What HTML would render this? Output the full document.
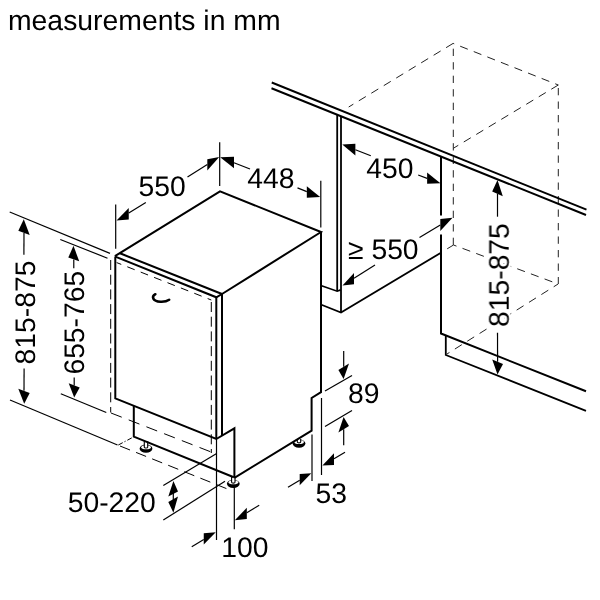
<!DOCTYPE html>
<html><head><meta charset="utf-8"><style>
html,body{margin:0;padding:0;background:#fff;}
svg{display:block;}
text{font-family:"Liberation Sans",sans-serif;fill:#000;text-rendering:geometricPrecision;}
</style></head><body>
<svg width="600" height="600" viewBox="0 0 600 600">
<defs><filter id="g" x="0" y="0" width="600" height="600" filterUnits="userSpaceOnUse" color-interpolation-filters="sRGB"><feColorMatrix type="saturate" values="0"/></filter></defs>
<rect width="600" height="600" fill="#fff"/>
<path d="M453.10 43.40 L348.70 107.00" fill="none" stroke="#222" stroke-width="1.0" stroke-linecap="butt" stroke-linejoin="miter" stroke-dasharray="8.2 6.4"/>
<path d="M453.10 43.40 L558.30 85.00" fill="none" stroke="#222" stroke-width="1.0" stroke-linecap="butt" stroke-linejoin="miter" stroke-dasharray="8.2 6.4" stroke-dashoffset="7"/>
<path d="M558.30 85.00 L453.30 148.30" fill="none" stroke="#222" stroke-width="1.0" stroke-linecap="butt" stroke-linejoin="miter" stroke-dasharray="8.2 6.4"/>
<path d="M453.30 43.40 L453.30 245.00" fill="none" stroke="#222" stroke-width="1.0" stroke-linecap="butt" stroke-linejoin="miter" stroke-dasharray="7.3 6.2" stroke-dashoffset="-5.3"/>
<path d="M558.30 85.00 L558.30 284.00" fill="none" stroke="#222" stroke-width="1.0" stroke-linecap="butt" stroke-linejoin="miter" stroke-dasharray="7.3 6.2" stroke-dashoffset="-3"/>
<path d="M453.50 245.00 L558.10 284.00" fill="none" stroke="#222" stroke-width="1.0" stroke-linecap="butt" stroke-linejoin="miter" stroke-dasharray="8.2 6.4" stroke-dashoffset="5"/>
<path d="M558.10 284.00 L447.00 354.00" fill="none" stroke="#222" stroke-width="1.0" stroke-linecap="butt" stroke-linejoin="miter" stroke-dasharray="8.2 6.4" stroke-dashoffset="3"/>
<path d="M453.50 245.00 L447.20 248.80" fill="none" stroke="#222" stroke-width="1.0" stroke-linecap="butt" stroke-linejoin="miter"/>
<path d="M271.75 82.50 L586.50 209.60" fill="none" stroke="#000" stroke-width="1.9" stroke-linecap="butt" stroke-linejoin="miter"/>
<path d="M271.50 88.25 L586.00 215.00" fill="none" stroke="#000" stroke-width="1.9" stroke-linecap="butt" stroke-linejoin="miter"/>
<path d="M337.20 114.60 L337.20 291.20" fill="none" stroke="#000" stroke-width="1.8" stroke-linecap="butt" stroke-linejoin="miter"/>
<path d="M341.00 116.20 L341.00 312.50" fill="none" stroke="#000" stroke-width="1.8" stroke-linecap="butt" stroke-linejoin="miter"/>
<path d="M320.80 285.50 L337.20 291.20 L340.70 289.90" fill="none" stroke="#000" stroke-width="1.7" stroke-linecap="butt" stroke-linejoin="miter"/>
<path d="M320.80 304.50 L341.00 312.50 L441.00 252.70" fill="none" stroke="#000" stroke-width="1.8" stroke-linecap="butt" stroke-linejoin="miter"/>
<path d="M441.00 156.80 L441.00 215.50" fill="none" stroke="#000" stroke-width="2.0" stroke-linecap="butt" stroke-linejoin="miter"/>
<path d="M441.00 234.50 L441.00 333.50 L586.00 391.30" fill="none" stroke="#000" stroke-width="2.0" stroke-linecap="butt" stroke-linejoin="miter"/>
<path d="M445.80 336.00 L445.80 355.00 L586.00 410.80" fill="none" stroke="#000" stroke-width="1.8" stroke-linecap="butt" stroke-linejoin="miter"/>
<ellipse cx="146" cy="448.70000000000005" rx="6.4" ry="4.1" fill="#000"/>
<ellipse cx="146.1" cy="447.20000000000005" rx="4.8" ry="2.0" fill="#fff"/>
<path d="M144.3 441.3 L144.3 447.20000000000005 A1.7 0.8 0 0 0 147.7 447.20000000000005 L147.7 441.3" fill="#fff" stroke="#000" stroke-width="1.1"/>
<ellipse cx="233.3" cy="483.8" rx="6.4" ry="4.1" fill="#000"/>
<ellipse cx="233.4" cy="482.3" rx="4.8" ry="2.0" fill="#fff"/>
<path d="M231.60000000000002 477 L231.60000000000002 482.3 A1.7 0.8 0 0 0 235.0 482.3 L235.0 477" fill="#fff" stroke="#000" stroke-width="1.1"/>
<ellipse cx="299" cy="443.6" rx="6.4" ry="4.1" fill="#000"/>
<ellipse cx="299.1" cy="442.1" rx="4.8" ry="2.0" fill="#fff"/>
<path d="M297.3 439 L297.3 442.1 A1.7 0.8 0 0 0 300.7 442.1 L300.7 439" fill="#fff" stroke="#000" stroke-width="1.1"/>
<path d="M114.90 256.20 L220.00 191.30 L321.00 232.00 L222.00 294.00" fill="none" stroke="#000" stroke-width="2.0" stroke-linecap="butt" stroke-linejoin="miter"/>
<path d="M120.00 253.30 L222.00 294.00" fill="none" stroke="#000" stroke-width="2.0" stroke-linecap="butt" stroke-linejoin="miter"/>
<path d="M115.30 256.60 L216.30 297.30 L222.00 294.00" fill="none" stroke="#000" stroke-width="2.0" stroke-linecap="butt" stroke-linejoin="miter"/>
<path d="M115.30 256.60 L115.30 398.40 L216.30 439.00 L234.40 428.30 L234.40 478.00" fill="none" stroke="#000" stroke-width="2.0" stroke-linecap="butt" stroke-linejoin="miter"/>
<path d="M216.30 297.30 L216.30 439.00" fill="none" stroke="#000" stroke-width="2.0" stroke-linecap="butt" stroke-linejoin="miter"/>
<path d="M222.00 294.00 L222.00 435.80" fill="none" stroke="#000" stroke-width="2.0" stroke-linecap="butt" stroke-linejoin="miter"/>
<path d="M321.00 232.00 L321.00 392.20 L311.60 398.00 L311.60 430.60 L234.40 477.80" fill="none" stroke="#000" stroke-width="2.0" stroke-linecap="butt" stroke-linejoin="miter"/>
<path d="M133.80 406.00 L133.80 436.60 L233.80 477.20" fill="none" stroke="#000" stroke-width="2.0" stroke-linecap="butt" stroke-linejoin="miter"/>
<path d="M155.4 294.2 C151.3 296.5 152.3 301 160.5 301.8 C164.5 302 167.5 301 169.2 299.8" fill="none" stroke="#000" stroke-width="2.5" stroke-linecap="round"/>
<path d="M110.70 258.70 L110.70 412.50" fill="none" stroke="#000" stroke-width="1.0" stroke-linecap="butt" stroke-linejoin="miter" stroke-dasharray="10 4.7" stroke-dashoffset="-1.3"/>
<path d="M116.70 262.60 L211.30 300.00" fill="none" stroke="#000" stroke-width="1.0" stroke-linecap="butt" stroke-linejoin="miter" stroke-dasharray="7.9 6.5" stroke-dashoffset="3"/>
<path d="M211.30 300.00 L211.30 453.00" fill="none" stroke="#000" stroke-width="1.0" stroke-linecap="butt" stroke-linejoin="miter" stroke-dasharray="10 4.7" stroke-dashoffset="-2"/>
<path d="M111.00 413.00 L215.00 453.50" fill="none" stroke="#000" stroke-width="1.0" stroke-linecap="butt" stroke-linejoin="miter" stroke-dasharray="11.5 7.5"/>
<path d="M120.00 446.00 L230.00 490.00" fill="none" stroke="#000" stroke-width="1.0" stroke-linecap="butt" stroke-linejoin="miter" stroke-dasharray="10.8 6.5"/>
<path d="M118.30 445.00 L132.50 437.50" fill="none" stroke="#000" stroke-width="1.0" stroke-linecap="butt" stroke-linejoin="miter" stroke-dasharray="5 2 1.2 2"/>
<path d="M9.70 212.00 L110.00 253.40" fill="none" stroke="#000" stroke-width="1.2" stroke-linecap="butt" stroke-linejoin="miter"/>
<path d="M60.30 239.50 L107.50 258.20" fill="none" stroke="#000" stroke-width="1.2" stroke-linecap="butt" stroke-linejoin="miter"/>
<path d="M10.00 400.00 L117.50 445.00" fill="none" stroke="#000" stroke-width="1.2" stroke-linecap="butt" stroke-linejoin="miter"/>
<path d="M60.80 393.80 L106.30 412.50" fill="none" stroke="#000" stroke-width="1.2" stroke-linecap="butt" stroke-linejoin="miter"/>
<path d="M23.80 219.20 L18.30 230.80 L29.70 235.00 Z" fill="#000"/>
<path d="M24.00 232.90 L23.90 254.70" fill="none" stroke="#000" stroke-width="1.2" stroke-linecap="butt" stroke-linejoin="miter"/>
<path d="M24.20 403.70 L18.30 388.70 L29.70 393.00 Z" fill="#000"/>
<path d="M24.00 390.85 L24.10 368.50" fill="none" stroke="#000" stroke-width="1.2" stroke-linecap="butt" stroke-linejoin="miter"/>
<path d="M73.50 245.80 L68.30 257.50 L79.20 261.30 Z" fill="#000"/>
<path d="M73.75 259.40 L73.80 268.30" fill="none" stroke="#000" stroke-width="1.2" stroke-linecap="butt" stroke-linejoin="miter"/>
<path d="M74.20 397.50 L68.70 383.30 L79.70 387.50 Z" fill="#000"/>
<path d="M74.20 385.40 L74.20 377.50" fill="none" stroke="#000" stroke-width="1.2" stroke-linecap="butt" stroke-linejoin="miter"/>
<path d="M219.70 142.20 L219.70 186.00" fill="none" stroke="#000" stroke-width="1.2" stroke-linecap="butt" stroke-linejoin="miter"/>
<path d="M115.70 204.60 L115.70 248.70" fill="none" stroke="#000" stroke-width="1.2" stroke-linecap="butt" stroke-linejoin="miter"/>
<path d="M320.80 180.80 L320.80 227.50" fill="none" stroke="#000" stroke-width="1.2" stroke-linecap="butt" stroke-linejoin="miter"/>
<path d="M219.20 157.10 L207.30 159.20 L207.30 170.40 Z" fill="#000"/>
<path d="M207.30 164.57 L187.50 177.00" fill="none" stroke="#000" stroke-width="1.2" stroke-linecap="butt" stroke-linejoin="miter"/>
<path d="M116.50 220.40 L128.75 207.90 L128.75 219.60 Z" fill="#000"/>
<path d="M128.75 212.92 L145.80 202.50" fill="none" stroke="#000" stroke-width="1.2" stroke-linecap="butt" stroke-linejoin="miter"/>
<path d="M220.20 157.30 L234.00 156.70 L234.00 168.20 Z" fill="#000"/>
<path d="M234.00 162.72 L250.00 169.00" fill="none" stroke="#000" stroke-width="1.2" stroke-linecap="butt" stroke-linejoin="miter"/>
<path d="M320.20 197.10 L306.80 186.25 L306.80 197.70 Z" fill="#000"/>
<path d="M306.80 191.67 L297.50 187.90" fill="none" stroke="#000" stroke-width="1.2" stroke-linecap="butt" stroke-linejoin="miter"/>
<path d="M342.30 144.60 L355.40 143.75 L355.40 155.40 Z" fill="#000"/>
<path d="M355.40 149.70 L370.80 155.70" fill="none" stroke="#000" stroke-width="1.2" stroke-linecap="butt" stroke-linejoin="miter"/>
<path d="M440.40 183.30 L427.10 172.50 L427.10 183.80 Z" fill="#000"/>
<path d="M427.10 178.33 L418.20 175.00" fill="none" stroke="#000" stroke-width="1.2" stroke-linecap="butt" stroke-linejoin="miter"/>
<path d="M342.50 285.40 L354.00 273.00 L354.00 284.20 Z" fill="#000"/>
<path d="M354.00 278.18 L375.00 265.00" fill="none" stroke="#000" stroke-width="1.2" stroke-linecap="butt" stroke-linejoin="miter"/>
<path d="M452.50 217.80 L440.30 219.00 L440.30 231.00 Z" fill="#000"/>
<path d="M440.30 225.08 L419.50 237.50" fill="none" stroke="#000" stroke-width="1.2" stroke-linecap="butt" stroke-linejoin="miter"/>
<path d="M497.50 180.00 L492.20 191.50 L502.80 196.20 Z" fill="#000"/>
<path d="M497.50 193.85 L497.50 216.70" fill="none" stroke="#000" stroke-width="1.2" stroke-linecap="butt" stroke-linejoin="miter"/>
<path d="M497.50 374.50 L492.20 359.50 L503.00 364.00 Z" fill="#000"/>
<path d="M497.60 361.75 L497.50 332.70" fill="none" stroke="#000" stroke-width="1.2" stroke-linecap="butt" stroke-linejoin="miter"/>
<path d="M325.00 391.00 L352.00 375.60" fill="none" stroke="#000" stroke-width="1.2" stroke-linecap="butt" stroke-linejoin="miter"/>
<path d="M325.00 426.40 L352.00 410.40" fill="none" stroke="#000" stroke-width="1.2" stroke-linecap="butt" stroke-linejoin="miter"/>
<path d="M343.60 379.00 L338.40 370.00 L349.00 363.60 Z" fill="#000"/>
<path d="M343.70 366.80 L343.70 351.00" fill="none" stroke="#000" stroke-width="1.2" stroke-linecap="butt" stroke-linejoin="miter"/>
<path d="M343.60 417.00 L338.40 432.40 L349.00 426.00 Z" fill="#000"/>
<path d="M343.70 429.20 L343.70 445.30" fill="none" stroke="#000" stroke-width="1.2" stroke-linecap="butt" stroke-linejoin="miter"/>
<path d="M312.00 434.50 L312.00 481.00" fill="none" stroke="#000" stroke-width="1.2" stroke-linecap="butt" stroke-linejoin="miter"/>
<path d="M321.50 398.00 L321.50 475.00" fill="none" stroke="#000" stroke-width="1.2" stroke-linecap="butt" stroke-linejoin="miter"/>
<path d="M322.40 465.60 L334.00 453.30 L334.00 465.00 Z" fill="#000"/>
<path d="M334.00 458.77 L345.00 452.30" fill="none" stroke="#000" stroke-width="1.2" stroke-linecap="butt" stroke-linejoin="miter"/>
<path d="M311.30 473.30 L299.70 474.00 L299.70 485.30 Z" fill="#000"/>
<path d="M299.70 480.27 L288.00 487.30" fill="none" stroke="#000" stroke-width="1.2" stroke-linecap="butt" stroke-linejoin="miter"/>
<path d="M163.30 485.60 L216.25 453.80" fill="none" stroke="#000" stroke-width="1.2" stroke-linecap="butt" stroke-linejoin="miter"/>
<path d="M163.30 520.00 L225.00 481.30" fill="none" stroke="#000" stroke-width="1.2" stroke-linecap="butt" stroke-linejoin="miter"/>
<path d="M173.4 481 L168.3 496.6 L178 491.6 Z M173.4 512.7 L168.3 502.1 L178 496.6 Z" fill="#000"/>
<path d="M173.30 493.00 L173.30 500.00" fill="none" stroke="#000" stroke-width="1.2" stroke-linecap="butt" stroke-linejoin="miter"/>
<path d="M216.50 439.00 L216.50 540.00" fill="none" stroke="#000" stroke-width="1.2" stroke-linecap="butt" stroke-linejoin="miter"/>
<path d="M234.30 486.00 L234.30 529.20" fill="none" stroke="#000" stroke-width="1.2" stroke-linecap="butt" stroke-linejoin="miter"/>
<path d="M215.75 532.20 L203.75 533.20 L203.75 544.50 Z" fill="#000"/>
<path d="M203.75 539.45 L191.75 546.70" fill="none" stroke="#000" stroke-width="1.2" stroke-linecap="butt" stroke-linejoin="miter"/>
<path d="M234.80 520.20 L246.80 507.75 L246.80 519.00 Z" fill="#000"/>
<path d="M246.80 512.82 L259.20 505.20" fill="none" stroke="#000" stroke-width="1.2" stroke-linecap="butt" stroke-linejoin="miter"/>
<g filter="url(#g)">
<text x="8" y="30" font-size="28.35">measurements in mm</text>
<text transform="translate(35 364.4) rotate(-90)" font-size="28.3">815-875</text>
<text transform="translate(84 374.6) rotate(-90)" font-size="28.3">655-765</text>
<text x="138.5" y="196.3" font-size="28.3">550</text>
<text x="247.2" y="187.8" font-size="28.3">448</text>
<text x="366.3" y="177.7" font-size="28.3">450</text>
<text x="348" y="258.7" font-size="28.3">≥ 550</text>
<text transform="translate(508.7 327) rotate(-90)" font-size="28.3" stroke="#fff" stroke-width="5" paint-order="stroke" stroke-linejoin="round">815-875</text>
<text x="348" y="403.2" font-size="28.3">89</text>
<text x="315.5" y="502.7" font-size="28.3">53</text>
<text x="67.7" y="512.1" font-size="28.3">50-220</text>
<text x="221.3" y="556.7" font-size="28.3">100</text>
</g>
</svg>
</body></html>
